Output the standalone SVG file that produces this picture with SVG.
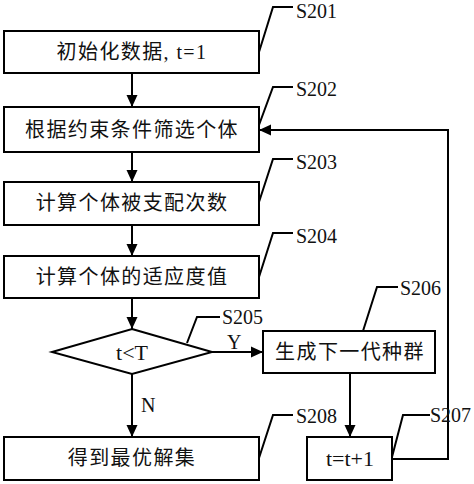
<svg xmlns="http://www.w3.org/2000/svg" width="474" height="484" viewBox="0 0 474 484">
<defs>
<marker id="ah" markerUnits="userSpaceOnUse" markerWidth="12" markerHeight="12" viewBox="0 0 12 12" refX="12" refY="6" orient="auto">
<path d="M0,0.5 L12,6 L0,11.5 Z" fill="#000"/>
</marker>
<style>
.box{fill:#fff;stroke:#000;stroke-width:2}
.ln{fill:none;stroke:#000;stroke-width:2}
.cn{font-family:"Liberation Serif","Noto Sans CJK SC",serif;font-size:20px;letter-spacing:1.4px;text-anchor:middle;dominant-baseline:central;fill:#111}
.lb{font-family:"Liberation Serif","Noto Sans CJK SC",serif;font-size:20px;fill:#111;dominant-baseline:central}
.lt{letter-spacing:0;font-size:22px}
</style>
</defs>
<rect width="474" height="484" fill="#fff"/>
<g id="connectors">
<line class="ln" x1="132" y1="73" x2="132" y2="107" marker-end="url(#ah)"/>
<line class="ln" x1="132" y1="152" x2="132" y2="182" marker-end="url(#ah)"/>
<line class="ln" x1="132" y1="225" x2="132" y2="256" marker-end="url(#ah)"/>
<line class="ln" x1="132" y1="298" x2="132" y2="329" marker-end="url(#ah)"/>
<line class="ln" x1="212" y1="352" x2="263" y2="352" marker-end="url(#ah)"/>
<line class="ln" x1="132" y1="374" x2="132" y2="437" marker-end="url(#ah)"/>
<line class="ln" x1="350" y1="373" x2="350" y2="437" marker-end="url(#ah)"/>
<polyline class="ln" points="392,459 448,459 448,130 259,130" marker-end="url(#ah)"/>
<text class="lb" x="227" y="342">Y</text>
<text class="lb" x="141" y="405">N</text>
</g>
<g id="S201">
<rect class="box" x="4" y="31" width="255" height="42"/>
<text class="cn" x="132" y="52">初始化数据, t=1</text>
<polyline class="ln" points="259,52 273,7 293,7"/>
<text class="lb" x="296" y="11">S201</text>
</g>
<g id="S202">
<rect class="box" x="4" y="107" width="255" height="45"/>
<text class="cn" x="132" y="130">根据约束条件筛选个体</text>
<polyline class="ln" points="259,125 273,87 293,87"/>
<text class="lb" x="296" y="89">S202</text>
</g>
<g id="S203">
<rect class="box" x="4" y="182" width="255" height="43"/>
<text class="cn" x="132" y="203">计算个体被支配次数</text>
<polyline class="ln" points="259,202 273,159 293,159"/>
<text class="lb" x="296" y="162">S203</text>
</g>
<g id="S204">
<rect class="box" x="4" y="256" width="255" height="42"/>
<text class="cn" x="132" y="277">计算个体的适应度值</text>
<polyline class="ln" points="259,277 273,233 293,233"/>
<text class="lb" x="296" y="236">S204</text>
</g>
<g id="S205">
<polygon class="box" points="132,329 212,352 132,374 52,352"/>
<text class="cn lt" x="132" y="352">t&lt;T</text>
<polyline class="ln" points="187,343 197,317 220,317"/>
<text class="lb" x="222" y="317">S205</text>
</g>
<g id="S206">
<rect class="box" x="263" y="331" width="172" height="42"/>
<text class="cn" x="350" y="352">生成下一代种群</text>
<polyline class="ln" points="363,331 377,287 398,287"/>
<text class="lb" x="400" y="288">S206</text>
</g>
<g id="S207">
<rect class="box" x="307" y="437" width="85" height="43"/>
<text class="cn lt" x="350" y="458">t=t+1</text>
<polyline class="ln" points="392,457 403,415 430,415"/>
<text class="lb" x="430" y="415">S207</text>
</g>
<g id="S208">
<rect class="box" x="4" y="437" width="255" height="43"/>
<text class="cn" x="132" y="458">得到最优解集</text>
<polyline class="ln" points="259,458 273,415 293,415"/>
<text class="lb" x="296" y="416">S208</text>
</g>
</svg>
